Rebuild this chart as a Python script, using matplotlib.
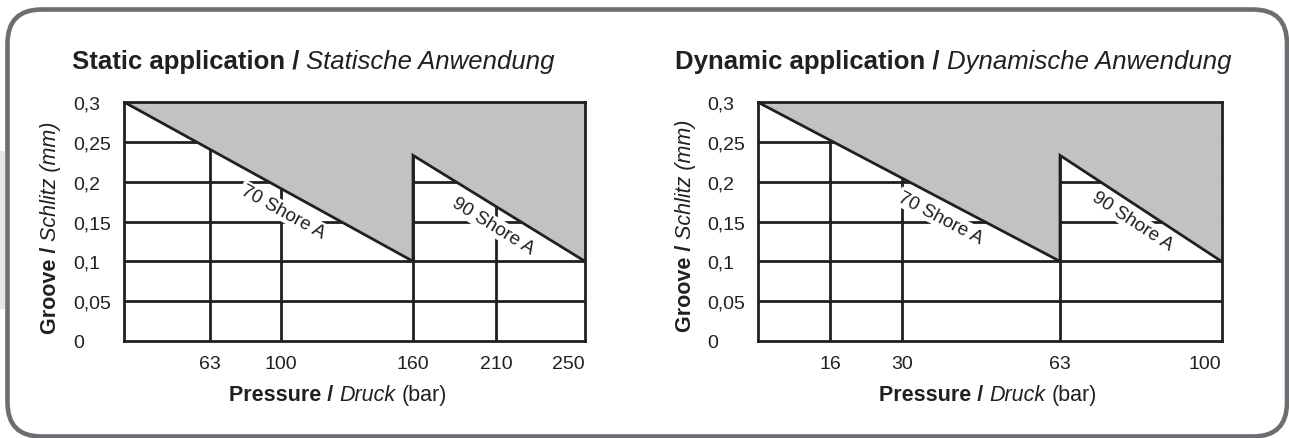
import numpy as np
import matplotlib
matplotlib.use("Agg")
import matplotlib.pyplot as plt
from matplotlib.transforms import IdentityTransform
from matplotlib.patches import FancyBboxPatch, Rectangle, Polygon

# ---------------------------------------------------------------- data
groove_ticks = [0, 0.05, 0.1, 0.15, 0.2, 0.25, 0.3]
groove_labels = ["0", "0,05", "0,1", "0,15", "0,2", "0,25", "0,3"]

static_ticks = [63, 100, 160, 210, 250]
static_tick_labels = ["63", "100", "160", "210", "250"]
static_70_p = [0, 160]
static_70_g = [0.3, 0.1]
static_90_p = [160, 250]
static_90_g = [0.233, 0.1]

dynamic_ticks = [16, 30, 63, 100]
dynamic_tick_labels = ["16", "30", "63", "100"]
dynamic_70_p = [0, 63]
dynamic_70_g = [0.3, 0.1]
dynamic_90_p = [63, 100]
dynamic_90_g = [0.233, 0.1]

# ---------------------------------------------------------------- style
W, H = 1289, 439
INK = "#231f20"
SHADE = "#c1c2c4"
FRAME = "#6d6e71"
LW = 2.0
TICK_SIZE = 14
LABEL_SIZE = 15.5
TITLE_SIZE = 18.5
SHORE_SIZE = 13.5

plt.rcParams["font.family"] = ["Liberation Sans", "DejaVu Sans"]

fig = plt.figure(figsize=(W / 100, H / 100), dpi=100)
fig.patch.set_facecolor("white")
renderer = fig.canvas.get_renderer()

BOLD = dict(fontweight="bold")
ITAL = dict(fontstyle="italic")
REG = dict()


def space_width(size):
    a = fig.text(0, 0, "x x", fontsize=size)
    b = fig.text(0, 0, "xx", fontsize=size)
    w = a.get_window_extent(renderer).width - b.get_window_extent(renderer).width
    a.remove()
    b.remove()
    return w


def mixed_text(x, y, pieces, size, align="left", rotation=0):
    """Write runs of differently styled text on one baseline (pixel coords from top-left)."""
    arts, widths = [], []
    for s, style in pieces:
        t = fig.text(0, 0, s, fontsize=size, color=INK, transform=IdentityTransform(),
                     ha="left", va="baseline", rotation_mode="anchor", **style)
        widths.append(t.get_window_extent(renderer).width)
        arts.append(t)
    gap = space_width(size)
    total = sum(widths) + gap * (len(widths) - 1)
    pos = 0 if align == "left" else -total / 2
    ang = np.radians(rotation)
    ux, uy = np.cos(ang), np.sin(ang)
    X, Y = x, H - y
    for t, w in zip(arts, widths):
        t.set_position((X + pos * ux, Y + pos * uy))
        t.set_rotation(rotation)
        pos += w + gap


def shore_label(ax, px_, gv, text, t, off):
    p0 = ax.transData.transform((px_[0], gv[0]))
    p1 = ax.transData.transform((px_[1], gv[1]))
    d = p1 - p0
    ang = np.degrees(np.arctan2(d[1], d[0]))
    u = d / np.hypot(*d)
    n = np.array([u[1], -u[0]])
    c = p0 + t * d + off * n
    cx, cy = ax.transData.inverted().transform(c)
    ax.text(cx, cy, text, rotation=ang, rotation_mode="anchor", ha="center", va="center",
            fontsize=SHORE_SIZE, color=INK, zorder=4,
            bbox=dict(facecolor="white", edgecolor="none", pad=1.0))


def draw_panel(rect, scale_p, scale_pos, ticks, tick_labels, p70, g70, p90, g90, lab70, lab90):
    ax = fig.add_axes(rect)
    fwd = lambda v: np.interp(v, scale_p, scale_pos)
    inv = lambda v: np.interp(v, scale_pos, scale_p)
    ax.set_xscale("function", functions=(fwd, inv))
    xmin, xmax = scale_p[0], scale_p[-1]
    ymax = groove_ticks[-1]
    ax.set_xlim(xmin, xmax)
    ax.set_ylim(groove_ticks[0], ymax)

    # grid
    ax.vlines(ticks[:-1], groove_ticks[0], ymax, colors=INK, lw=LW, zorder=1)
    ax.hlines(groove_ticks[1:-1], xmin, xmax, colors=INK, lw=LW, zorder=1)

    # shaded area above the limit curves
    verts = [(xmin, ymax)] + list(zip(p70, g70)) + list(zip(p90, g90)) + [(xmax, ymax)]
    ax.add_patch(Polygon(verts, closed=True, facecolor=SHADE, edgecolor="none", zorder=2))
    ax.plot(p70 + p90, g70 + g90, color=INK, lw=LW, zorder=5, solid_joinstyle="miter")

    shore_label(ax, p70, g70, "70 Shore A", *lab70)
    shore_label(ax, p90, g90, "90 Shore A", *lab90)

    ax.set_yticks(groove_ticks, groove_labels)
    ax.set_xticks(ticks, tick_labels)
    ax.tick_params(axis="y", length=0, pad=36.5, labelsize=TICK_SIZE, labelcolor=INK)
    ax.tick_params(axis="x", length=0, pad=10, labelsize=TICK_SIZE, labelcolor=INK)
    for lab in ax.get_yticklabels():
        lab.set_horizontalalignment("left")
    ax.get_xticklabels()[-1].set_horizontalalignment("right")
    for sp in ax.spines.values():
        sp.set_linewidth(LW)
        sp.set_color(INK)
        sp.set_zorder(6)
    return ax


draw_panel([124 / W, (H - 342) / H, 461 / W, 239 / H],
           [0, 63, 100, 160, 210, 250], [0, 0.1866, 0.3405, 0.627, 0.808, 1.0],
           static_ticks, static_tick_labels,
           static_70_p, static_70_g, static_90_p, static_90_g,
           (0.58, 19), (0.52, 18))

draw_panel([757.5 / W, (H - 342) / H, 464 / W, 239 / H],
           [0, 16, 30, 63, 100], [0, 0.156, 0.312, 0.652, 1.0],
           dynamic_ticks, dynamic_tick_labels,
           dynamic_70_p, dynamic_70_g, dynamic_90_p, dynamic_90_g,
           (0.63, 17), (0.50, 15))

# titles
mixed_text(72, 69, [("Static application /", BOLD), ("Statische Anwendung", ITAL)], TITLE_SIZE)
mixed_text(675, 69, [("Dynamic application /", BOLD), ("Dynamische Anwendung", ITAL)], TITLE_SIZE)

# axis labels
xlab = [("Pressure /", BOLD), ("Druck", ITAL), ("(bar)", REG)]
ylab = [("Groove /", BOLD), ("Schlitz (mm)", ITAL)]
mixed_text(338, 401, xlab, LABEL_SIZE, align="center")
mixed_text(988, 401, xlab, LABEL_SIZE, align="center")
mixed_text(56, 228, ylab, LABEL_SIZE, align="center", rotation=90)
mixed_text(691, 226, ylab, LABEL_SIZE, align="center", rotation=90)

# outer rounded frame
fig.add_artist(Rectangle((0, H - 310), 5, 158, transform=IdentityTransform(),
                         facecolor="#e6e7e8", edgecolor="none", zorder=0))
fig.add_artist(FancyBboxPatch((7.5, H - 437.5), 1287 - 7.5, 437.5 - 10.5,
                              boxstyle="round,pad=0,rounding_size=34",
                              transform=IdentityTransform(), facecolor="none",
                              edgecolor=FRAME, lw=3.3, zorder=1))

fig.savefig("out.png", dpi=100)
